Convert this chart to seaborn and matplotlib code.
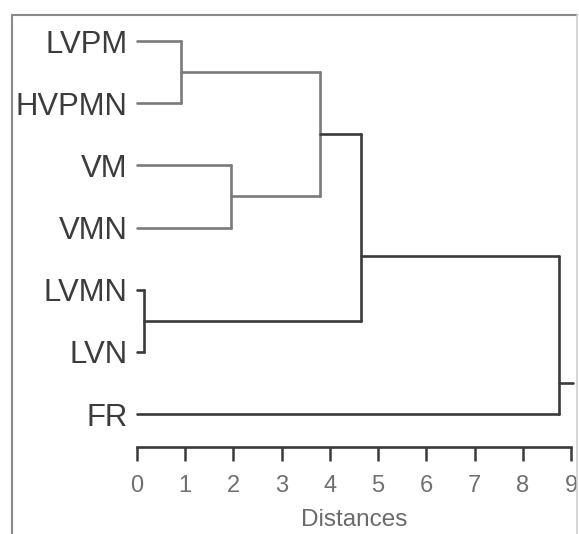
import numpy as np
import pandas as pd
import matplotlib
matplotlib.use("Agg")
import matplotlib.pyplot as plt
import seaborn as sns
from matplotlib.lines import Line2D

# ---- data ----
leaves = ["LVPM", "HVPMN", "VM", "VMN", "LVMN", "LVN", "FR"]
# merges: (child a, child b, distance); node ids >= len(leaves) refer to earlier merges
merge_a = [0, 2, 4, 7, 10, 11]
merge_b = [1, 3, 5, 8, 9, 6]
merge_dist = [0.91, 1.95, 0.15, 3.80, 4.65, 8.76]
merge_pos = [0.5, 2.5, 4.5, 1.5, 3.46, 5.5]   # drawn row position of each merged node
merge_tone = ["light", "light", "dark", "light", "dark", "dark"]
root_stub_end = 9.05
x_ticks = [0, 1, 2, 3, 4, 5, 6, 7, 8, 9]

# ---- build segments ----
n = len(leaves)
pos = {i: float(i) for i in range(n)}
hgt = {i: 0.0 for i in range(n)}
rows = []
seg = 0
for k, (a, b, d, p, t) in enumerate(zip(merge_a, merge_b, merge_dist, merge_pos, merge_tone)):
    node = n + k
    for c in (a, b):
        rows.append((seg, hgt[c], pos[c], t)); rows.append((seg, d, pos[c], t)); seg += 1
    rows.append((seg, d, pos[a], t)); rows.append((seg, d, pos[b], t)); seg += 1
    pos[node] = p
    hgt[node] = d
root = n + len(merge_a) - 1
rows.append((seg, hgt[root], pos[root], "dark"))
rows.append((seg, root_stub_end, pos[root], "dark"))
df = pd.DataFrame(rows, columns=["seg", "x", "y", "tone"])

sns.set_style("white")
plt.rcParams["font.family"] = ["Liberation Sans", "DejaVu Sans"]

fig = plt.figure(figsize=(5.79, 5.34), dpi=100)
W, H = 579, 534
left, right, top, bottom = 137, 571, 10, 447
ax = fig.add_axes([left / W, 1 - bottom / H, (right - left) / W, (bottom - top) / H])

sns.lineplot(data=df, x="x", y="y", units="seg", estimator=None, sort=False,
             hue="tone", palette={"light": "#7a7a7a", "dark": "#3a3a3a"},
             linewidth=1.9, legend=False, ax=ax, clip_on=False)

ax.set_xlim(0, 9)
ax.set_ylim(6.53, -0.5)
ax.set_yticks(range(n))
ax.set_yticklabels(leaves, fontsize=22.4, color="#3c3c3c")
ax.tick_params(axis="y", left=False, length=0, pad=7)
ax.set_xticks(x_ticks)
ax.set_xticklabels([str(v) for v in x_ticks], fontsize=17, color="#707070")
ax.tick_params(axis="x", bottom=True, direction="out", length=10, width=1.8,
               color="#3a3a3a", pad=10.5)
for s in ("left", "right", "top"):
    ax.spines[s].set_visible(False)
ax.spines["bottom"].set_color("#3a3a3a")
ax.spines["bottom"].set_linewidth(1.9)
ax.set_xlabel("Distances", fontsize=17.5, color="#6a6a6a", labelpad=8)
ax.set_ylabel("")
ax.set_facecolor("none")

# outer frame
fc = "#8a8a8a"
fig.add_artist(Line2D([12 / W, 577 / W], [1 - 15 / H, 1 - 15 / H], color=fc, lw=1.5, transform=fig.transFigure))
fig.add_artist(Line2D([12 / W, 12 / W], [1 - 15 / H, 0], color=fc, lw=1.5, transform=fig.transFigure))
fig.add_artist(Line2D([577 / W, 577 / W], [1 - 15 / H, 0], color="#cfcfcf", lw=1.2, transform=fig.transFigure))

fig.savefig("out.png", dpi=100)
